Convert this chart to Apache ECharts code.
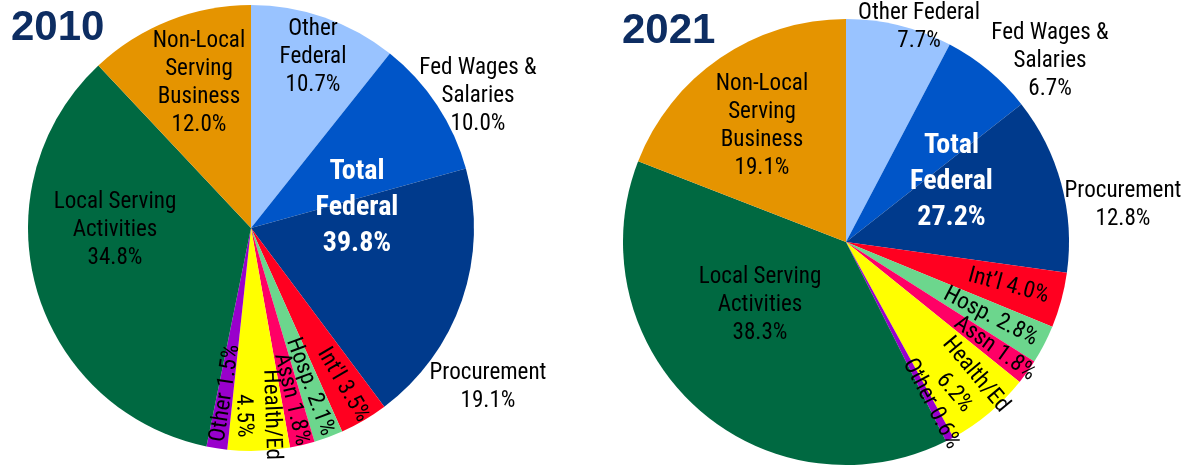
<!DOCTYPE html>
<html><head><meta charset="utf-8">
<script src="https://cdn.jsdelivr.net/npm/echarts@6/dist/echarts.min.js"></script>
<style>html,body{margin:0;padding:0;background:#fff}#c{width:1191px;height:466px}</style>
</head><body><div id="c"></div>
<script>
// ---- data ----
const categories = ['Other Federal','Fed Wages & Salaries','Procurement',"Int'l",'Hosp.','Assn','Health/Ed','Other','Local Serving Activities','Non-Local Serving Business'];
const years = ['2010','2021'];
const values2010 = [10.7, 10.0, 19.1, 3.5, 2.1, 1.8, 4.5, 1.5, 34.8, 12.0];
const values2021 = [7.7, 6.7, 12.8, 4.0, 2.8, 1.8, 6.2, 0.6, 38.3, 19.1];
const labels2010 = ['Other\nFederal','Fed Wages &\nSalaries','Procurement',"Int'l",'Hosp.','Assn','Health/Ed','Other','Local Serving\nActivities','Non-Local\nServing\nBusiness'];
const labels2021 = ['Other Federal','Fed Wages &\nSalaries','Procurement','Int\u2019l','Hosp.','Assn','Health/Ed','Other','Local Serving\nActivities','Non-Local\nServing\nBusiness'];
const federalCount = 3; // first three categories make up "Total Federal"

// ---- styles / layout ----
const colors = ['#99C3FF','#0055C8','#003A8C','#FF0020','#6CD68D','#FF0066','#FFFF00','#9900CC','#006941','#E59400'];
const sep = ['\n','\n','\n',' ',' ',' ','\n',' ','\n','\n'];
const radial = [false,false,false,true,true,true,true,true,false,false];
const layouts = [
  {center:[251,228], r:223, title:[11,28], total:[106,-20],
   spots:[[62,-171],[227,-132],[237,159],0.816,0.76,0.79,0.84,0.75,[-136,2],[-52,-145]]},
  {center:[846,242], r:223, title:[622,31], total:[105.5,-60],
   spots:[[73,-215],[204,-181],[277,-37],0.755,0.73,0.82,0.83,0.82,[-86,63.5],[-84,-116]]}
];
const allValues = [values2010, values2021];
const allLabels = [labels2010, labels2021];

// pick a (preferably narrow) installed font and size it toward the reference widths
const ctx = document.createElement('canvas').getContext('2d');
function installed(name){
  const t = 'Local Serving Activities 0123456789';
  for (const base of ['monospace','serif']) {
    ctx.font = '40px ' + base; const w0 = ctx.measureText(t).width;
    ctx.font = "40px '" + name + "', " + base; const w1 = ctx.measureText(t).width;
    if (Math.abs(w0 - w1) > 0.5) return true;
  }
  return false;
}
const candidates = ['Liberation Sans Narrow','Arial Narrow','Roboto Condensed','Open Sans Condensed','Liberation Sans','Arial'];
const fontName = candidates.find(installed) || 'sans-serif';
const FONT = "'" + fontName + "',sans-serif";
ctx.font = "24px " + FONT;
const wReg = ctx.measureText('Local Serving').width;
const regSize = Math.min(24, 24 * Math.sqrt(118 / wReg));
ctx.font = "bold 28px " + FONT;
const wBold = ctx.measureText('Federal').width;
const boldSize = Math.min(28, 28 * Math.sqrt(83 / wBold));

function midAngles(vals){
  const tot = vals.reduce((a,b)=>a+b,0); let c = 0;
  return vals.map(v=>{ const m = (c + v/2)/tot*360; c += v; return m; });
}

const series = [], graphic = [];
allValues.forEach((vals, k)=>{
  const L = layouts[k], mids = midAngles(vals), labs = allLabels[k];
  const [cx, cy] = L.center;
  series.push({
    type:'pie', name: years[k], center: L.center, radius: L.r,
    startAngle: 90, clockwise: true, avoidLabelOverlap: false,
    labelLine:{show:false}, emphasis:{disabled:true}, silent:true, animation:false,
    itemStyle:{borderWidth:0},
    label:{show:true, position:'inside', color:'#000', fontFamily:FONT, fontSize:regSize, lineHeight:28,
      formatter: p => labs[p.dataIndex] + sep[p.dataIndex] + p.value.toFixed(1) + '%'},
    labelLayout: p => {
      const s = L.spots[p.dataIndex];
      if (Array.isArray(s)) return {x: cx + s[0], y: cy + s[1]};
      const a = mids[p.dataIndex]*Math.PI/180;
      return {x: cx + s*L.r*Math.sin(a), y: cy - s*L.r*Math.cos(a)};
    },
    data: vals.map((v,i)=>({value:v, name:categories[i], itemStyle:{color:colors[i]},
      label:{rotate: radial[i] ? 'radial' : 0}}))
  });
  const fed = vals.slice(0, federalCount).reduce((a,b)=>a+b,0);
  graphic.push({type:'text', x: cx + L.total[0], y: cy + L.total[1], silent:true, z:100, zlevel:0,
    style:{text:'Total\nFederal\n' + fed.toFixed(1) + '%', fill:'#fff', fontFamily:FONT, fontWeight:'bold',
      fontSize:boldSize, lineHeight:36, align:'center', verticalAlign:'middle'}});
  graphic.push({type:'text', x: L.title[0], y: L.title[1], silent:true, z:100,
    style:{text: years[k], fill:'#0D2D62', fontFamily:"'Liberation Sans',Arial,sans-serif", fontWeight:'bold',
      fontSize:42, align:'left', verticalAlign:'middle'}});
});

const chart = echarts.init(document.getElementById('c'));
chart.setOption({backgroundColor:'#fff', animation:false, series, graphic});
</script></body></html>
